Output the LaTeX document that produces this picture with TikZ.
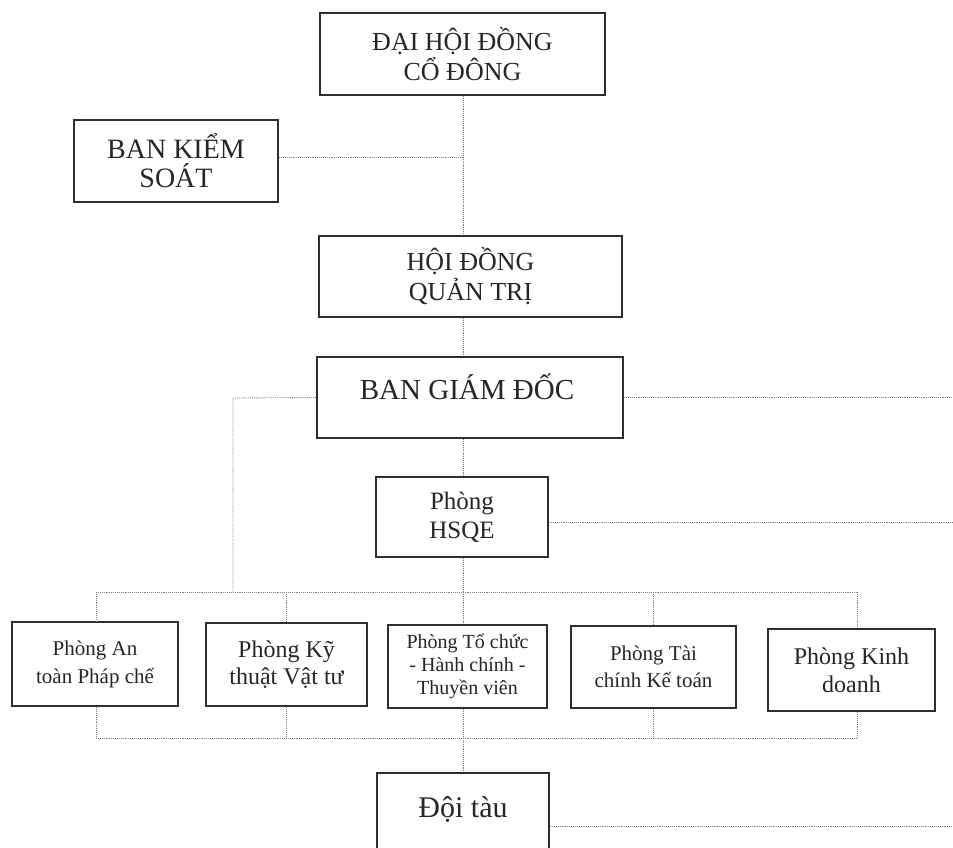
\documentclass[tikz,border=0pt]{standalone}
\usepackage{fontspec}
\setmainfont{Liberation Serif}
\begin{document}
\begin{tikzpicture}[x=1pt,y=-1pt,
  box/.style={draw=black!82, line width=2.4pt, rectangle, align=center, inner sep=0pt, fill=white, text=black!85},
  txt/.style={align=center, inner sep=0pt, text=black!85},
  conn/.style={densely dotted, line width=0.9pt, black!50}]
\useasboundingbox[fill=white] (0,0) rectangle (953,848);
% key coordinates
\coordinate (edge) at (953,0);
\coordinate (trunk) at (463,0);
\coordinate (lft) at (233,398);
\coordinate (tbL) at (96,592);
\coordinate (tbR) at (857,592);
\coordinate (bbL) at (96,738);
\coordinate (bbR) at (857,738);
% boxes
\node[box, minimum width=285pt, minimum height=82pt, font=\fontsize{26}{30}\selectfont] (dh) at (462.5,54) {ĐẠI HỘI ĐỒNG\\CỔ ĐÔNG};
\node[box, minimum width=204pt, minimum height=82pt, font=\fontsize{28}{29}\selectfont] (bks) at (176,161) {BAN KIỂM\\SOÁT};
\node[box, minimum width=303pt, minimum height=81pt, font=\fontsize{26}{30}\selectfont] (hdqt) at (470.5,276.5) {HỘI ĐỒNG\\QUẢN TRỊ};
\node[box, minimum width=306pt, minimum height=81pt] (bgd) at (470,397.5) {};
\node[txt, font=\fontsize{29}{32}\selectfont] (bgdt) at (467,387) {BAN GIÁM ĐỐC};
\node[box, minimum width=172pt, minimum height=80pt, font=\fontsize{25}{29}\selectfont] (hsqe) at (462,517) {Phòng\\HSQE};
\node[box, minimum width=166pt, minimum height=84pt, font=\fontsize{21}{28}\selectfont] (b1) at (95,664) {Phòng An\\toàn Pháp chế};
\node[box, minimum width=161pt, minimum height=83pt, font=\fontsize{24}{27}\selectfont] (b2) at (286.5,664.5) {Phòng Kỹ\\thuật Vật tư};
\node[box, minimum width=159pt, minimum height=83pt, font=\fontsize{20}{23}\selectfont] (b3) at (467.5,666.5) {Phòng Tổ chức\\- Hành chính -\\Thuyền viên};
\node[box, minimum width=165pt, minimum height=82pt, font=\fontsize{21}{27}\selectfont] (b4) at (653.5,667) {Phòng Tài\\chính Kế toán};
\node[box, minimum width=167pt, minimum height=82pt, font=\fontsize{24}{28}\selectfont] (b5) at (851.5,670) {Phòng Kinh\\doanh};
\node[box, minimum width=172pt, minimum height=107pt] (doi) at (463,826.5) {};
\node[txt, font=\fontsize{30}{32}\selectfont] (doit) at (463,810) {Đội tàu};
% connectors
\draw[conn] (trunk |- dh.south) -- (trunk |- hdqt.north);
\draw[conn] ([yshift=4pt]bks.east) -- ([yshift=4pt]bks.east -| trunk);
\draw[conn] (trunk |- hdqt.south) -- (trunk |- bgd.north);
\draw[conn] (bgd.west) -- (lft) -- (lft |- tbL);
\draw[conn] (bgd.east) -- (bgd.east -| edge);
\draw[conn] (trunk |- bgd.south) -- (trunk |- hsqe.north);
\draw[conn] ([yshift=-5pt]hsqe.east) -- ([yshift=-5pt]hsqe.east -| edge);
\draw[conn] (trunk |- hsqe.south) -- (trunk |- tbL);
\draw[conn] (tbL) -- (tbR);
\draw[conn] (tbL) -- (tbL |- b1.north);
\draw[conn] (b2.north |- tbL) -- (b2.north);
\draw[conn] (trunk |- tbL) -- (trunk |- b3.north);
\draw[conn] (b4.north |- tbL) -- (b4.north);
\draw[conn] (tbR) -- (tbR |- b5.north);
\draw[conn] (bbL) -- (bbR);
\draw[conn] (b1.south -| bbL) -- (bbL);
\draw[conn] (b2.south) -- (b2.south |- bbL);
\draw[conn] (trunk |- b3.south) -- (trunk |- bbL);
\draw[conn] (b4.south) -- (b4.south |- bbL);
\draw[conn] (bbR |- b5.south) -- (bbR);
\draw[conn] (trunk |- bbL) -- (doi.north);
\draw[conn] (doi.east) -- (doi.east -| edge);
\end{tikzpicture}
\end{document}
